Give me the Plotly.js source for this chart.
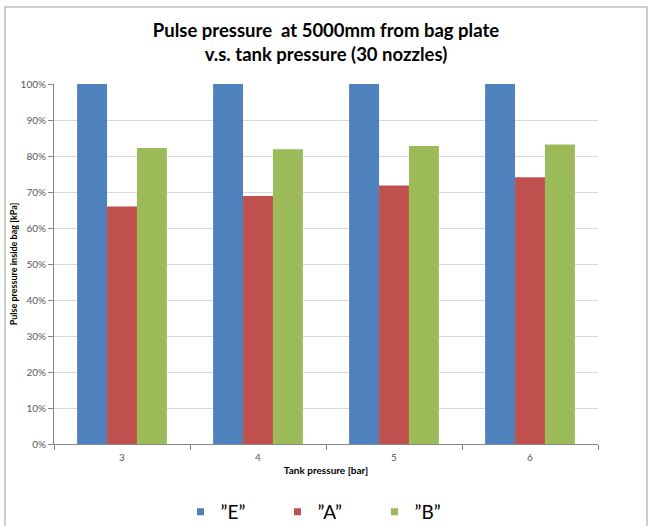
<!DOCTYPE html>
<html>
<head>
<meta charset="utf-8">
<script src="https://cdn.plot.ly/plotly-3.0.1.min.js"></script>
<style>
html,body{margin:0;padding:0;background:#fff;}
#chart{width:652px;height:526px;}
</style>
</head>
<body>
<div id="chart"></div>
<script>
const categories = ["3", "4", "5", "6"];
const seriesNames = ["\u201DE\u201D", "\u201DA\u201D", "\u201DB\u201D"];
const valuesE = [1.00, 1.00, 1.00, 1.00];
const valuesA = [0.660, 0.689, 0.718, 0.741];
const valuesB = [0.822, 0.819, 0.828, 0.832];
const yTickVals = [0, 0.1, 0.2, 0.3, 0.4, 0.5, 0.6, 0.7, 0.8, 0.9, 1.0];
const yTickText = ["0%", "10%", "20%", "30%", "40%", "50%", "60%", "70%", "80%", "90%", "100%"];
const colors = ["#4F81BD", "#C0504D", "#9BBB59"];

const allValues = [valuesE, valuesA, valuesB];
const barTraces = allValues.map((v, i) => ({
  type: "bar",
  name: seriesNames[i],
  x: categories,
  y: v,
  marker: {color: colors[i], line: {width: 0}},
  showlegend: false
}));
// legend-only entries with small square symbols
const legendTraces = seriesNames.map((n, i) => ({
  type: "scatter",
  mode: "markers",
  name: n,
  x: [categories[0]],
  y: [null],
  marker: {symbol: "square", size: 7, color: colors[i]},
  showlegend: true
}));

const font = "Lato, 'Open Sans', 'Liberation Sans', sans-serif";

const layout = {
  width: 652,
  height: 526,
  margin: {l: 54, r: 54, t: 84, b: 82, autoexpand: false},
  paper_bgcolor: "#ffffff",
  plot_bgcolor: "#ffffff",
  font: {family: font, color: "#595959", size: 10},
  title: {
    text: "<b>Pulse pressure  at 5000mm from bag plate<br>v.s. tank pressure (30 nozzles)</b>",
    font: {family: font, size: 18.5, color: "#000000"},
    x: 0.5, xanchor: "center",
    y: 1 - 37/526, yanchor: "middle", yref: "container"
  },
  barmode: "group",
  bargap: 0.34,
  bargroupgap: 0,
  xaxis: {
    type: "category",
    showline: true, linecolor: "#868686", linewidth: 1,
    ticks: "outside", tickson: "boundaries", ticklen: 5, tickcolor: "#868686",
    tickfont: {size: 10, color: "#595959"},
    ticklabelstandoff: 4,
    showgrid: false,
    title: {text: "<b>Tank pressure [bar]</b>", font: {size: 10, color: "#000000"}, standoff: 4}
  },
  yaxis: {
    range: [0, 1],
    tickvals: yTickVals, ticktext: yTickText,
    showline: true, linecolor: "#868686", linewidth: 1,
    ticks: "outside", ticklen: 5, tickcolor: "#868686",
    tickfont: {size: 10, color: "#595959"},
    showgrid: true, gridcolor: "#D9D9D9", gridwidth: 1,
    zeroline: false,
    title: {text: "<b>Pulse pressure inside bag [kPa]</b>", font: {size: 9, color: "#000000"}, standoff: 1}
  },
  showlegend: true,
  legend: {
    orientation: "h",
    x: 0.5, xanchor: "center", xref: "paper",
    y: 1 - 512/526, yanchor: "middle", yref: "container",
    font: {size: 19, color: "#000000"},
    bgcolor: "rgba(0,0,0,0)",
    entrywidth: 52,
    itemwidth: 30,
    traceorder: "normal"
  },
  shapes: [{
    type: "rect", xref: "paper", yref: "paper",
    x0: (5 - 54) / 544, x1: (647 - 54) / 544,
    y0: (444 - 530) / 360, y1: (444 - 7) / 360,
    line: {color: "#BFBFBF", width: 1.5},
    fillcolor: "rgba(0,0,0,0)",
    layer: "below"
  }]
};

Plotly.newPlot("chart", barTraces.concat(legendTraces), layout, {displayModeBar: false, staticPlot: true});
</script>
</body>
</html>
